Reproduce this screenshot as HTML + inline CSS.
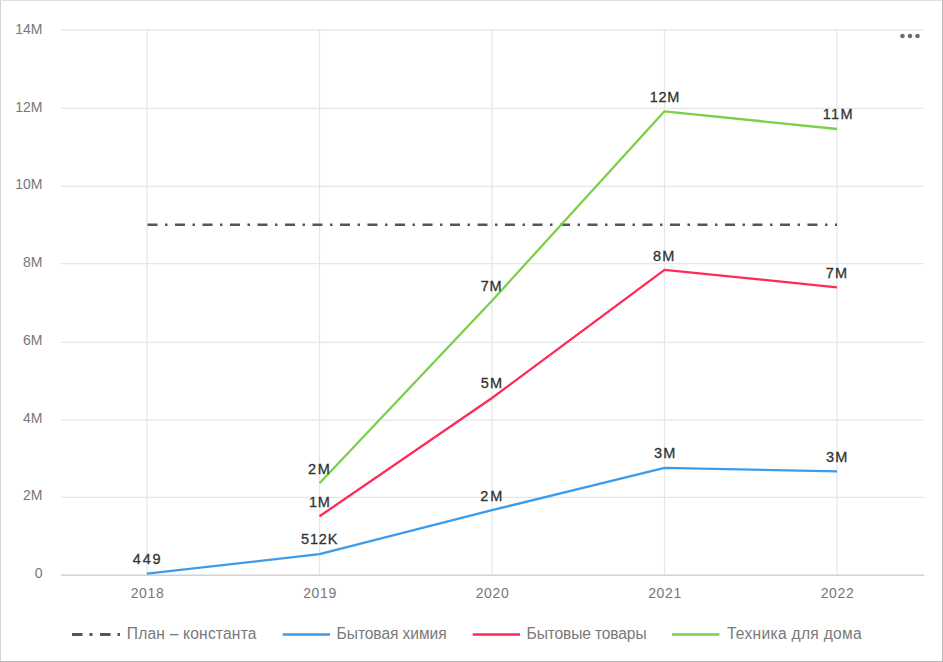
<!DOCTYPE html>
<html><head><meta charset="utf-8"><style>
html,body{margin:0;padding:0;background:#fff;width:943px;height:662px;overflow:hidden;position:relative;font-family:"Liberation Sans",sans-serif;}
</style></head><body>
<svg width="943" height="662" viewBox="0 0 943 662" style="position:absolute;left:0;top:0"><rect x="0" y="0" width="943" height="662" fill="#ffffff"/><rect x="0" y="0" width="1" height="662" fill="#d4d4d4"/><rect x="0" y="0" width="943" height="1" fill="#e0e0e0"/><rect x="942" y="0" width="1" height="662" fill="#bcbcbc"/><rect x="0" y="661" width="943" height="1" fill="#b8b8b8"/><line x1="61" y1="497.30" x2="924" y2="497.30" stroke="#e6e6e6" stroke-width="1.25"/><line x1="61" y1="420.00" x2="924" y2="420.00" stroke="#e6e6e6" stroke-width="1.25"/><line x1="61" y1="342.30" x2="924" y2="342.30" stroke="#e6e6e6" stroke-width="1.25"/><line x1="61" y1="263.50" x2="924" y2="263.50" stroke="#e6e6e6" stroke-width="1.25"/><line x1="61" y1="186.25" x2="924" y2="186.25" stroke="#e6e6e6" stroke-width="1.25"/><line x1="61" y1="108.30" x2="924" y2="108.30" stroke="#e6e6e6" stroke-width="1.25"/><line x1="61" y1="29.90" x2="924" y2="29.90" stroke="#e6e6e6" stroke-width="1.25"/><line x1="147" y1="29.87" x2="147" y2="575.2" stroke="#e6e6e6" stroke-width="1.25"/><line x1="319.5" y1="29.87" x2="319.5" y2="575.2" stroke="#e6e6e6" stroke-width="1.25"/><line x1="492" y1="29.87" x2="492" y2="575.2" stroke="#e6e6e6" stroke-width="1.25"/><line x1="664.5" y1="29.87" x2="664.5" y2="575.2" stroke="#e6e6e6" stroke-width="1.25"/><line x1="837" y1="29.87" x2="837" y2="575.2" stroke="#e6e6e6" stroke-width="1.25"/><line x1="61" y1="575.3" x2="924" y2="575.3" stroke="#d2d2d2" stroke-width="1.4"/><text x="42.5" y="577.90" text-anchor="end" font-family="Liberation Sans" font-size="14" fill="#777777">0</text><text x="42.5" y="500.20" text-anchor="end" font-family="Liberation Sans" font-size="14" fill="#777777">2M</text><text x="42.5" y="422.50" text-anchor="end" font-family="Liberation Sans" font-size="14" fill="#777777">4M</text><text x="42.5" y="344.80" text-anchor="end" font-family="Liberation Sans" font-size="14" fill="#777777">6M</text><text x="42.5" y="267.10" text-anchor="end" font-family="Liberation Sans" font-size="14" fill="#777777">8M</text><text x="42.5" y="189.40" text-anchor="end" font-family="Liberation Sans" font-size="14" fill="#777777">10M</text><text x="42.5" y="111.70" text-anchor="end" font-family="Liberation Sans" font-size="14" fill="#777777">12M</text><text x="42.5" y="34.00" text-anchor="end" font-family="Liberation Sans" font-size="14" fill="#777777">14M</text><text x="147.5" y="598" text-anchor="middle" font-family="Liberation Sans" font-size="14" letter-spacing="0.6" fill="#777777">2018</text><text x="320.0" y="598" text-anchor="middle" font-family="Liberation Sans" font-size="14" letter-spacing="0.6" fill="#777777">2019</text><text x="492.5" y="598" text-anchor="middle" font-family="Liberation Sans" font-size="14" letter-spacing="0.6" fill="#777777">2020</text><text x="665.0" y="598" text-anchor="middle" font-family="Liberation Sans" font-size="14" letter-spacing="0.6" fill="#777777">2021</text><text x="837.5" y="598" text-anchor="middle" font-family="Liberation Sans" font-size="14" letter-spacing="0.6" fill="#777777">2022</text><line x1="147" y1="224.63" x2="837" y2="224.63" stroke="#565656" stroke-width="2.5" stroke-dasharray="10 7.5 2.5 7.5" stroke-dashoffset="-0.5"/><path d="M147.0,573.6 L319.5,554.2 L492.0,510.2 L664.5,467.9 L837.0,471.3" fill="none" stroke="#3d9be9" stroke-width="2.3" stroke-linejoin="round"/><path d="M319.5,516.3 L492.0,398.0 L664.5,269.8 L837.0,287.3" fill="none" stroke="#ff2a55" stroke-width="2.3" stroke-linejoin="round"/><path d="M319.5,483.3 L492.0,300.7 L664.5,111.3 L837.0,129.0" fill="none" stroke="#7bcf4a" stroke-width="2.3" stroke-linejoin="round"/><text x="146.7" y="564.2" text-anchor="middle" font-family="Liberation Sans" font-size="14.5" fill="#333333" stroke="#333333" stroke-width="0.3" textLength="27.7" lengthAdjust="spacing">449</text><text x="319.2" y="543.9" text-anchor="middle" font-family="Liberation Sans" font-size="14.5" fill="#333333" stroke="#333333" stroke-width="0.3" textLength="36.2" lengthAdjust="spacing">512K</text><text x="491.3" y="500.8" text-anchor="middle" font-family="Liberation Sans" font-size="14.5" fill="#333333" stroke="#333333" stroke-width="0.3" textLength="21.9" lengthAdjust="spacing">2M</text><text x="664.6" y="458.1" text-anchor="middle" font-family="Liberation Sans" font-size="14.5" fill="#333333" stroke="#333333" stroke-width="0.3" textLength="21.4" lengthAdjust="spacing">3M</text><text x="836.6" y="462.3" text-anchor="middle" font-family="Liberation Sans" font-size="14.5" fill="#333333" stroke="#333333" stroke-width="0.3" textLength="21.4" lengthAdjust="spacing">3M</text><text x="319.5" y="506.8" text-anchor="middle" font-family="Liberation Sans" font-size="14.5" fill="#333333" stroke="#333333" stroke-width="0.3" textLength="20.8" lengthAdjust="spacing">1M</text><text x="491.4" y="388.0" text-anchor="middle" font-family="Liberation Sans" font-size="14.5" fill="#333333" stroke="#333333" stroke-width="0.3" textLength="21.2" lengthAdjust="spacing">5M</text><text x="663.7" y="261.1" text-anchor="middle" font-family="Liberation Sans" font-size="14.5" fill="#333333" stroke="#333333" stroke-width="0.3" textLength="21.4" lengthAdjust="spacing">8M</text><text x="836.5" y="278.0" text-anchor="middle" font-family="Liberation Sans" font-size="14.5" fill="#333333" stroke="#333333" stroke-width="0.3" textLength="21.4" lengthAdjust="spacing">7M</text><text x="318.9" y="474.0" text-anchor="middle" font-family="Liberation Sans" font-size="14.5" fill="#333333" stroke="#333333" stroke-width="0.3" textLength="21.9" lengthAdjust="spacing">2M</text><text x="491.2" y="290.9" text-anchor="middle" font-family="Liberation Sans" font-size="14.5" fill="#333333" stroke="#333333" stroke-width="0.3" textLength="20.9" lengthAdjust="spacing">7M</text><text x="664.6" y="102.3" text-anchor="middle" font-family="Liberation Sans" font-size="14.5" fill="#333333" stroke="#333333" stroke-width="0.3" textLength="29.6" lengthAdjust="spacing">12M</text><text x="837.6" y="119.0" text-anchor="middle" font-family="Liberation Sans" font-size="14.5" fill="#333333" stroke="#333333" stroke-width="0.3" textLength="29.9" lengthAdjust="spacing">11M</text><line x1="72" y1="634.5" x2="120" y2="634.5" stroke="#555555" stroke-width="3" stroke-dasharray="10.5 7 3 7.5"/><line x1="282.7" y1="634.5" x2="330.0" y2="634.5" stroke="#3d9be9" stroke-width="2.4"/><line x1="472.7" y1="634.5" x2="520.0" y2="634.5" stroke="#ff2a55" stroke-width="2.4"/><line x1="672.1" y1="634.5" x2="719.4" y2="634.5" stroke="#7bcf4a" stroke-width="2.4"/><text x="126.8" y="639.4" font-family="Liberation Sans" font-size="15.6" fill="#7a7a7a" textLength="129.7" lengthAdjust="spacing">План – константа</text><text x="336.6" y="639.4" font-family="Liberation Sans" font-size="15.6" fill="#7a7a7a" textLength="110.1" lengthAdjust="spacing">Бытовая химия</text><text x="526.6" y="639.4" font-family="Liberation Sans" font-size="15.6" fill="#7a7a7a" textLength="120.0" lengthAdjust="spacing">Бытовые товары</text><text x="726.9" y="639.4" font-family="Liberation Sans" font-size="15.6" fill="#7a7a7a" textLength="134.9" lengthAdjust="spacing">Техника для дома</text><circle cx="902.5" cy="36" r="2.3" fill="#6e6e6e"/><circle cx="910" cy="36" r="2.3" fill="#6e6e6e"/><circle cx="917.5" cy="36" r="2.3" fill="#6e6e6e"/></svg>
</body></html>
